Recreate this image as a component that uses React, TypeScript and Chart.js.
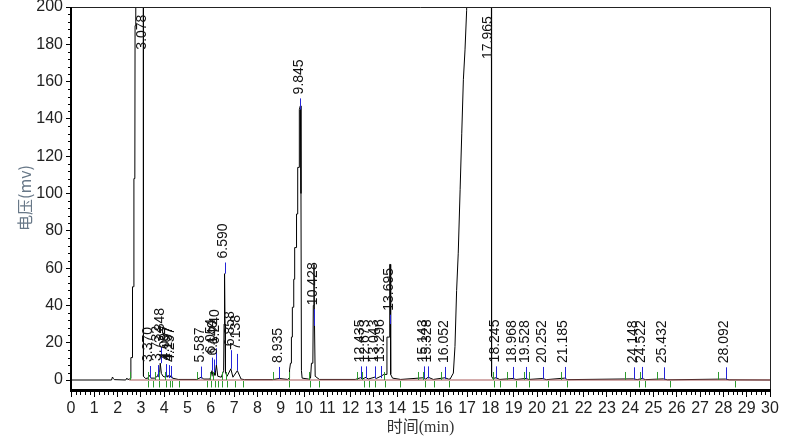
import React, { useEffect, useRef } from 'react';
import { Chart, registerables } from 'chart.js';

Chart.register(...registerables);

// ---- Data ----
const traceTimes = [
  0, 1.74, 1.78, 1.82, 1.86, 2.35, 2.4, 2.44, 2.5, 2.56, 2.57, 2.63, 2.64, 2.69, 2.7, 2.74, 2.75, 2.78, 2.79,
  3.08, 3.1, 3.11, 3.2, 3.3, 3.37, 3.43, 3.6, 3.7, 3.73, 3.8, 3.83, 3.86, 3.88, 3.95, 4.05, 4.1, 4.15, 4.2,
  4.25, 4.3, 4.35, 4.6, 5.4, 5.59, 5.7, 5.97, 6.05, 6.1, 6.14, 6.18, 6.24, 6.3, 6.45, 6.55, 6.57, 6.59, 6.61,
  6.63, 6.7, 6.86, 6.95, 7.14, 7.3, 7.45, 8.65, 8.94, 9.3, 9.36, 9.38, 9.42, 9.45, 9.46, 9.49, 9.5, 9.55,
  9.56, 9.59, 9.6, 9.67, 9.68, 9.72, 9.73, 9.79, 9.8, 9.845, 9.87, 9.89, 9.92, 10.2, 10.28, 10.32, 10.38,
  10.4, 10.428, 10.45, 10.48, 10.66, 12.2, 12.43, 12.5, 12.67, 12.75, 13.04, 13.1, 13.3, 13.43, 13.52,
  13.56, 13.66, 13.68, 13.7, 13.72, 13.8, 14.15, 15.14, 15.22, 15.33, 15.55, 16.05, 16.2, 16.27, 16.41,
  16.48, 16.55, 16.62, 16.7, 16.77, 16.84, 16.91, 16.98, 17.05, 17.965, 18.03, 18.05, 18.1, 18.245, 18.4,
  18.97, 19.1, 19.53, 19.65, 20.25, 20.4, 21.19, 21.3, 24.15, 24.3, 24.52, 24.65, 25.43, 25.6, 28.09,
  28.25, 30,
];
const traceValues = [
  0, 0, 1.6, 0.8, 0.2, 0, 1.0, 0.2, 0.5, 0.8, 12, 12, 50, 50, 108, 108, 190, 192, 400,
  600, 300, 2, 0.8, 1.0, 2.5, 1.0, 1.0, 2.0, 3.0, 3.0, 9, 9, 3.5, 2, 1.5, 3, 1.5, 2.5,
  1.5, 2.5, 1.0, 0.3, 0.3, 1.5, 0.5, 0.5, 5, 2, 4, 2.5, 8, 2, 1.5, 5, 30, 57, 30,
  4, 2, 6, 1.5, 5, 0.5, 0.2, 0.2, 0.8, 0.3, 1, 5.4, 9, 9, 23, 23, 39, 39,
  54, 54, 71, 71, 89, 89, 114, 114, 145, 147, 100, 5, 1, 0.5, 1, 9, 9,
  40, 62, 30, 2, 0.3, 0.3, 1.2, 0.5, 1.5, 0.5, 1.5, 0.8, 2, 3, 3,
  23, 23, 62, 62, 3, 1, 0.3, 1.2, 0.5, 1.5, 0.3, 1.2, 0.5, 0.5, 3.7,
  18, 48, 68, 102, 132, 161, 177, 198, 260, 800, 600, 2, 0.8, 1.2, 0.3,
  0.8, 0.3, 0.8, 0.3, 0.8, 0.2, 1, 0.2, 0.6, 0.2, 0.8, 0.2, 0.6, 0.1, 0.5,
  0.1, 0,
];

const baselineTimes = [2.5, 30];
const baselineValues = [0, 0];

const peakTimes = [
  3.078, 3.37, 3.732, 3.848, 4.097, 4.197, 4.297, 5.587, 6.054, 6.14, 6.24, 6.59, 6.858, 7.138, 8.935,
  9.845, 10.428, 12.435, 12.673, 13.043, 13.296, 13.695, 15.143, 15.328, 16.052, 17.965, 18.245, 18.968,
  19.528, 20.252, 21.185, 24.148, 24.522, 25.432, 28.092,
];
const peakLabels = [
  '3.078', '3.370', '3.732', '3.848', '4.097', '4.197', '4.297', '5.587', '6.054', '6.140', '6.240', '6.590',
  '6.858', '7.138', '8.935', '9.845', '10.428', '12.435', '12.673', '13.043', '13.296', '13.695', '15.143',
  '15.328', '16.052', '17.965', '18.245', '18.968', '19.528', '20.252', '21.185', '24.148', '24.522',
  '25.432', '28.092',
];
// apex marker (blue) low / high values in mV; null = no visible marker
const apexLow: (number | null)[] = [
  null, 1, 1.5, 9, 1.5, 1, 1, 0.8, 5, 4, 8, 57, 6, 5, 0.5,
  145, 29, 0.8, 0.8, 0.8, 1, 30, 0.8, 0.8, 0.5, null, 0.8, 0.5,
  0.5, 0.5, 0.5, 0.3, 0.5, 0.3, 0.3,
];
const apexHigh: (number | null)[] = [
  null, 7.5, 8, 17.7, 8.5, 8, 7.5, 7.2, 12, 11, 17, 63, 16, 14, 7,
  151, 38, 7.3, 7.3, 7.3, 7.5, 35, 7.3, 7.3, 7, null, 7.3, 7,
  7, 7, 7, 6.8, 7, 6.8, 6.8,
];
// value where each label starts (bottom of rotated text)
const labelBase = apexHigh.map((v, i) => (v === null ? (i === 0 ? 175 : 170) : v));

// integration marks (green)
const startMarkTimes = [
  2.52, 3.3, 3.62, 3.78, 4.05, 5.42, 5.97, 6.1, 6.47, 6.65, 8.67, 9.37, 10.23, 12.26, 12.5, 13.43,
  14.9, 15.12, 15.87, 18.13, 18.7, 19.46, 19.67, 21.03, 23.78, 24.42, 25.14, 27.78,
];
const endMarkTimes = [
  3.3, 3.54, 3.78, 4.08, 4.23, 4.35, 4.62, 5.82, 6.03, 6.2, 6.29, 6.47, 6.7, 7.05, 7.38, 9.35, 10.26,
  10.66, 12.56, 12.81, 13.06, 13.49, 14.13, 15.2, 15.58, 16.21, 18.15, 18.41, 19.1, 19.67, 20.49, 21.27,
  24.39, 24.62, 25.71, 28.5,
];

const xTickValues = Array.from({ length: 31 }, (_, i) => i);
const yTickValues = [0, 20, 40, 60, 80, 100, 120, 140, 160, 180, 200];

const GREEN = '#2f9a2f';
const BLUE = '#2424d8';

const overlay = {
  id: 'overlay',
  afterDatasetsDraw(chart: any) {
    const { ctx, chartArea: a, scales } = chart;
    const x = scales.x;
    const y = scales.y;
    const y0 = y.getPixelForValue(0);
    ctx.save();
    ctx.lineWidth = 1;
    const vline = (px: number, p1: number, p2: number) => {
      const xx = Math.round(px) + 0.5;
      ctx.beginPath();
      ctx.moveTo(xx, p1);
      ctx.lineTo(xx, p2);
      ctx.stroke();
    };
    // green integration marks
    ctx.strokeStyle = GREEN;
    startMarkTimes.forEach((t) => vline(x.getPixelForValue(t), y0, y.getPixelForValue(4.3)));
    endMarkTimes.forEach((t) => vline(x.getPixelForValue(t), y0 + 1, y.getPixelForValue(-4.0)));
    // blue apex marks
    ctx.strokeStyle = BLUE;
    peakTimes.forEach((t, i) => {
      const lo = apexLow[i];
      const hi = apexHigh[i];
      if (lo === null || hi === null) return;
      vline(x.getPixelForValue(t), y.getPixelForValue(lo), y.getPixelForValue(hi));
    });
    // peak labels
    ctx.fillStyle = '#111';
    ctx.font = '14px "Liberation Sans", Arial, sans-serif';
    ctx.textAlign = 'left';
    ctx.textBaseline = 'middle';
    peakTimes.forEach((t, i) => {
      const px = x.getPixelForValue(t) - 1;
      const py = y.getPixelForValue(labelBase[i]) - 4;
      ctx.save();
      ctx.translate(px, py);
      ctx.rotate(-Math.PI / 2);
      ctx.fillText(peakLabels[i], 0, 0);
      ctx.restore();
    });
    // frame
    ctx.strokeStyle = '#222';
    ctx.lineWidth = 1;
    ctx.beginPath();
    ctx.moveTo(a.left, a.top + 0.5);
    ctx.lineTo(a.right + 0.5, a.top + 0.5);
    ctx.lineTo(a.right + 0.5, a.bottom);
    ctx.stroke();
    ctx.strokeStyle = '#000';
    ctx.lineWidth = 2;
    ctx.beginPath();
    ctx.moveTo(a.left, a.top);
    ctx.lineTo(a.left, a.bottom);
    ctx.stroke();
    ctx.lineWidth = 3;
    ctx.beginPath();
    ctx.moveTo(a.left - 1, a.bottom + 0.5);
    ctx.lineTo(a.right + 1, a.bottom + 0.5);
    ctx.stroke();
    // minor ticks
    ctx.lineWidth = 1;
    ctx.strokeStyle = '#000';
    for (let k = 0; k < 150; k++) {
      if (k % 5 === 0) continue;
      const v = k / 5;
      vline(x.getPixelForValue(v), a.bottom, a.bottom + 5);
    }
    for (let v = 4; v < 200; v += 4) {
      if (v % 20 === 0) continue;
      const py = Math.round(y.getPixelForValue(v)) + 0.5;
      ctx.beginPath();
      ctx.moveTo(a.left - 3, py);
      ctx.lineTo(a.left, py);
      ctx.stroke();
    }
    // axis titles
    ctx.fillStyle = '#333';
    ctx.font = '16px "Liberation Serif", "Noto Sans CJK SC", serif';
    ctx.textAlign = 'center';
    ctx.textBaseline = 'middle';
    ctx.fillText('时间(min)', (a.left + a.right) / 2, 428);
    ctx.save();
    ctx.translate(25, 198);
    ctx.rotate(-Math.PI / 2);
    ctx.fillStyle = '#687888';
    ctx.font = '16px "Noto Sans CJK SC", sans-serif';
    ctx.fillText('电压(mv)', 0, 0);
    ctx.restore();
    ctx.restore();
  },
};

export default function App() {
  const ref = useRef<HTMLCanvasElement | null>(null);
  useEffect(() => {
    if (!ref.current) return;
    const chart = new Chart(ref.current, {
      type: 'line',
      data: {
        datasets: [
          {
            label: 'baseline',
            data: baselineTimes.map((t, i) => ({ x: t, y: baselineValues[i] })),
            borderColor: '#a85858',
            borderWidth: 1,
            pointRadius: 0,
            order: 0,
          },
          {
            label: 'signal',
            data: traceTimes.map((t, i) => ({ x: t, y: traceValues[i] })),
            borderColor: '#000',
            borderWidth: 1,
            pointRadius: 0,
            tension: 0,
            order: 1,
          },
        ],
      },
      options: {
        animation: false,
        responsive: true,
        maintainAspectRatio: false,
        devicePixelRatio: 1,
        layout: { padding: { top: 7, right: 28, left: 0, bottom: 0 } },
        plugins: { legend: { display: false }, tooltip: { enabled: false } },
        scales: {
          x: {
            type: 'linear',
            min: 0,
            max: 30,
            afterBuildTicks: (s: any) => {
              s.ticks = xTickValues.map((v) => ({ value: v }));
            },
            afterFit: (s: any) => {
              s.height = 52;
              s.paddingLeft = 0;
              s.paddingRight = 0;
            },
            grid: { drawOnChartArea: false, drawTicks: true, tickLength: 7, color: '#000' },
            border: { display: false },
            ticks: {
              autoSkip: false,
              maxRotation: 0,
              padding: 2,
              color: '#222',
              font: { size: 16, family: '"Liberation Sans", Arial, sans-serif' },
            },
          },
          y: {
            type: 'linear',
            min: -5.36,
            max: 200,
            afterBuildTicks: (s: any) => {
              s.ticks = yTickValues.map((v) => ({ value: v }));
            },
            afterFit: (s: any) => {
              s.width = 71;
              s.paddingTop = 0;
              s.paddingBottom = 0;
            },
            grid: { drawOnChartArea: false, drawTicks: true, tickLength: 5, color: '#000' },
            border: { display: false },
            ticks: {
              autoSkip: false,
              padding: 3,
              color: '#222',
              font: { size: 16, family: '"Liberation Sans", Arial, sans-serif' },
            },
          },
        },
      },
      plugins: [overlay],
    });
    return () => chart.destroy();
  }, []);
  return (
    <div style={{ position: 'fixed', left: 0, top: 0, width: 798, height: 442, background: '#fff' }}>
      <canvas ref={ref} />
    </div>
  );
}
